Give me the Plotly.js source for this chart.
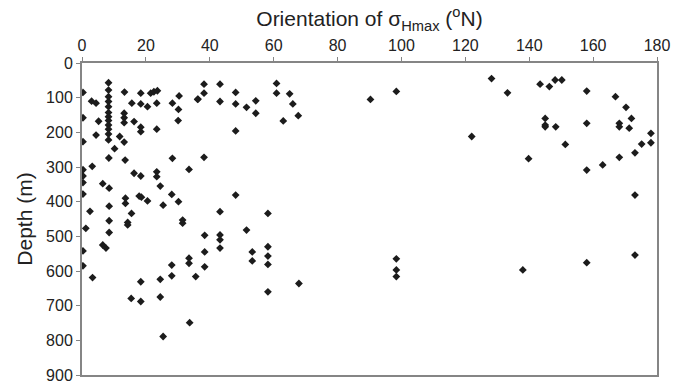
<!DOCTYPE html>
<html>
<head>
<meta charset="utf-8">
<script src="https://cdn.plot.ly/plotly-3.0.1.min.js"></script>
<style>html,body{margin:0;padding:0;background:#fff;}#chart{width:675px;height:384px;}</style>
</head>
<body>
<div id="chart"></div>
<script>
// Orientation of sigma_Hmax (degrees N) and depth (m) of each measurement
const orientation = [
  0.3,0.3,0.3,0.3,0.3,0.3,0.3,1.2,0.3,0.3,3.3,2.5,
  3,4.4,5.2,4.4,3.2,
  8.3,8.3,8.3,8.3,8.3,8.3,8.3,8.3,8.3,8.3,8.3,8.3,10.2,8.4,
  6.5,8.5,8.5,8.5,8.5,6.5,7.5,
  13.3,13.2,13.2,13.2,15.6,16.3,11.8,13.2,13.5,13.6,13.6,15.5,14.3,14.3,
  18.4,21.5,22.5,23.6,18.4,20.5,23.4,18.4,18.4,23.4,16.3,18.4,23.4,23.4,24.5,17.9,18.6,20.5,25.4,18.4,24.5,15.4,18.4,24.5,25.4,
  28.3,30.4,30.2,30.1,28.3,33.5,28.1,30.2,31.5,31.5,28.1,28.1,33.5,33.5,35.6,33.7,36.2,
  38.2,38.2,36.3,43.2,43.2,48.1,48.1,51.5,54.4,54.4,60.9,60.9,65,66,67.7,63,48.1,38.2,48.1,43.2,58.2,51.5,38.4,43.2,43.2,43.2,38.4,53.3,53.3,58.2,58.2,58.2,38.4,67.9,58.2,
  90.3,98.4,128.2,133.2,122,139.8,98.4,98.4,98.4,138,
  143.4,146.3,148.1,150.2,158,167,170.3,172,145,145,145,148.3,158,168.2,168.2,171.3,178.1,178.1,175.2,173.1,151.3,168.2,163,158,173.1,173.1,158
];
const depth = [
  85,158,227,308,326,345,378,477,542,585,619,428,
  110,116,168,208,298,
  57,78,97,111,126,143,155,166,179,191,205,222,247,274,
  348,361,413,455,489,525,534,
  84,145,158,172,116,169,212,228,280,390,405,434,460,467,
  87,87,83,80,118,126,116,185,198,191,318,326,314,328,355,384,387,398,410,631,624,679,688,675,789,
  116,95,134,166,275,307,379,400,453,462,583,614,563,578,616,749,105,
  61,87,104,61,111,85,118,128,109,145,59,87,89,118,152,167,196,272,381,429,434,482,497,496,510,534,545,545,571,530,557,581,588,636,660,
  105,82,45,86,212,276,565,597,616,597,
  61,68,49,49,81,97,128,160,160,179,184,184,174,174,184,188,203,230,234,259,235,272,294,309,381,554,576
];
const xTicks = [0,20,40,60,80,100,120,140,160,180];
const yTicks = [0,100,200,300,400,500,600,700,800,900];

const trace = {
  x: orientation, y: depth, type: 'scatter', mode: 'markers',
  marker: {symbol: 'diamond', size: 6, color: '#1c1c1c'},
  hoverinfo: 'skip', showlegend: false
};

const axisCommon = {
  showgrid: false, zeroline: false, showline: true, mirror: true,
  linecolor: '#858585', linewidth: 2, ticks: 'outside', ticklen: 4,
  tickcolor: '#858585', tickwidth: 1
};

const layout = {
  width: 675, height: 384,
  margin: {l: 82, r: 18, t: 63, b: 9},
  paper_bgcolor: '#fff', plot_bgcolor: '#fff',
  font: {family: 'Liberation Sans, Arial, sans-serif', color: '#222'},
  xaxis: Object.assign({}, axisCommon, {
    side: 'top', range: [0, 180], tickvals: xTicks, ticktext: xTicks.map(String),
    tickfont: {size: 16},
    title: {text: 'Orientation of σ<sub>Hmax</sub> (<sup>o</sup>N)', font: {size: 21}, standoff: 4}
  }),
  yaxis: Object.assign({}, axisCommon, {
    range: [900, 0], tickvals: yTicks, ticktext: yTicks.map(String),
    tickfont: {size: 16},
    title: {text: 'Depth (m)', font: {size: 21}, standoff: 8}
  })
};

Plotly.newPlot('chart', [trace], layout, {staticPlot: true, displayModeBar: false});
</script>
</body>
</html>
